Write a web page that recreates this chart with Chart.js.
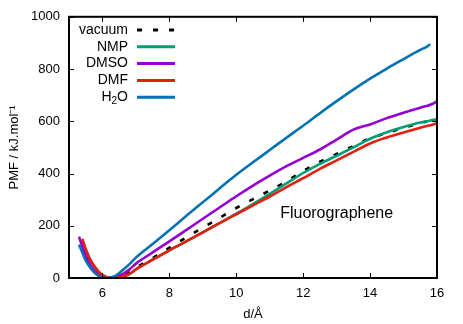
<!DOCTYPE html>
<html>
<head>
<meta charset="utf-8">
<script src="https://cdn.jsdelivr.net/npm/chart.js@4.4.0/dist/chart.umd.min.js"></script>
<style>
  html, body { margin: 0; padding: 0; background: #fff; }
  #wrap { width: 463px; height: 324px; }
</style>
</head>
<body>
<div id="wrap"><canvas id="pmfChart" width="463" height="324"></canvas></div>
<script>
// distance d / Angstrom
const dist = [5.3, 5.4, 5.5, 5.6, 5.7, 5.8, 5.9, 6.0, 6.1, 6.2, 6.3, 6.4, 6.6, 6.8, 7.0, 7.5, 8.0, 8.5, 9.0, 9.5,
  10.0, 10.5, 11.0, 11.5, 12.0, 12.5, 13.0, 13.5, 14.0, 14.5, 15.0, 15.5, 15.7, 15.8, 16.0];

// PMF values (kJ/mol)
const vacuum = [null, 140, 105, 75, 52, 33, 19, 9, 3, 0, 1, 4, 12, 25, 40, 76, 116, 155, 193, 230,
  268, 302, 335, 370, 410, 445, 475, 505, 535, 555, 575, 592, 600, null, null];
const nmp = [null, 146, 108, 78, 55, 36, 21, 11, 4, 1, 0, 1, 6, 15, 33, 70, 106, 140, 175, 210,
  246, 283, 322, 362, 402, 437, 468, 500, 533, 558, 578, 595, 600, 603, 608];
const dmso = [158, 120, 85, 58, 37, 21, 10, 4, 1, 0, 2, 5, 15, 32, 55, 98, 140, 183, 227, 270,
  313, 354, 392, 428, 460, 492, 530, 568, 588, 612, 633, 652, 659, 663, 676];
const dmf = [null, 150, 110, 80, 57, 38, 22, 12, 5, 1, 0, 1, 6, 15, 33, 70, 106, 140, 175, 210,
  244, 278, 312, 348, 382, 418, 450, 483, 515, 538, 557, 575, 582, 585, 592];
const h2o = [128, 98, 67, 46, 29, 16, 7, 2, 0, 1, 4, 9, 30, 52, 78, 130, 183, 237, 290, 343,
  395, 443, 490, 537, 583, 631, 677, 721, 763, 802, 838, 873, 886, 895, null];

const xTicks = [6, 8, 10, 12, 14, 16];
const yTicks = [0, 200, 400, 600, 800, 1000];

const FONT = "'Liberation Sans', Arial, Helvetica, sans-serif";

function toPoints(vals) {
  const pts = [];
  vals.forEach((v, i) => { if (v !== null) pts.push({ x: dist[i], y: v }); });
  return pts;
}

function series(label, vals, color, order, dash) {
  return {
    label: label,
    data: toPoints(vals),
    borderColor: color,
    backgroundColor: color,
    borderWidth: 2.6,
    borderDash: dash || [],
    pointRadius: 0,
    cubicInterpolationMode: "monotone",
    order: order,
  };
}

// frame, inward ticks, key and label in gnuplot style
const gnuplotLook = {
  id: "gnuplotLook",
  afterDatasetsDraw(chart) {
    const ctx = chart.ctx;
    const a = chart.chartArea;
    const xs = chart.scales.x;
    const ys = chart.scales.y;
    ctx.save();
    ctx.strokeStyle = "#000";
    ctx.lineWidth = 1;
    xTicks.forEach((v) => {
      const px = Math.round(xs.getPixelForValue(v)) + 0.5;
      ctx.beginPath();
      ctx.moveTo(px, a.bottom); ctx.lineTo(px, a.bottom - 5);
      ctx.moveTo(px, a.top); ctx.lineTo(px, a.top + 5);
      ctx.stroke();
    });
    yTicks.forEach((v) => {
      const py = Math.round(ys.getPixelForValue(v)) + 0.5;
      ctx.beginPath();
      ctx.moveTo(a.left, py); ctx.lineTo(a.left + 5, py);
      ctx.moveTo(a.right, py); ctx.lineTo(a.right - 5, py);
      ctx.stroke();
    });
    ctx.lineWidth = 2;
    ctx.strokeRect(a.left, a.top, a.right - a.left, a.bottom - a.top);

    // key
    const textRight = 128;
    const lineStart = 137, lineEnd = 175;
    const rowTop = 30, rowStep = 16.8;
    ctx.font = "14px " + FONT;
    ctx.textBaseline = "middle";
    chart.data.datasets.forEach((ds, i) => {
      const y = rowTop + i * rowStep;
      ctx.fillStyle = "#000";
      ctx.textAlign = "right";
      if (ds.label === "H2O") {
        const wO = ctx.measureText("O").width;
        ctx.fillText("O", textRight, y);
        ctx.font = "10px " + FONT;
        const w2 = ctx.measureText("2").width;
        ctx.fillText("2", textRight - wO, y + 4);
        ctx.font = "14px " + FONT;
        ctx.fillText("H", textRight - wO - w2, y);
      } else {
        ctx.fillText(ds.label, textRight, y);
      }
      ctx.strokeStyle = ds.borderColor;
      ctx.lineWidth = 3;
      ctx.setLineDash(ds.borderDash.length ? [5, 11] : []);
      ctx.beginPath();
      ctx.moveTo(lineStart, y); ctx.lineTo(lineEnd, y);
      ctx.stroke();
      ctx.setLineDash([]);
    });

    ctx.font = "16px " + FONT;
    ctx.fillStyle = "#000";
    ctx.textAlign = "center";
    ctx.fillText("Fluorographene", xs.getPixelForValue(13.0), ys.getPixelForValue(248));
    ctx.restore();
  },
};

const ctx = document.getElementById("pmfChart").getContext("2d");
new Chart(ctx, {
  type: "line",
  data: {
    datasets: [
      series("vacuum", vacuum, "#000000", 5, [5, 11]),
      series("NMP", nmp, "#009e73", 4),
      series("DMSO", dmso, "#9400d3", 3),
      series("DMF", dmf, "#e51e10", 2),
      series("H2O", h2o, "#0072b2", 1),
    ],
  },
  options: {
    responsive: false,
    animation: false,
    layout: { padding: { left: 0, right: 26, top: 16, bottom: 0 } },
    plugins: { legend: { display: false }, tooltip: { enabled: false } },
    scales: {
      x: {
        type: "linear",
        min: 5,
        max: 16,
        afterBuildTicks: (s) => { s.ticks = xTicks.map((v) => ({ value: v })); },
        afterFit: (s) => { s.height = 46; },
        grid: { display: false, drawTicks: false },
        border: { display: false },
        ticks: { padding: 8, color: "#000", font: { family: FONT, size: 13 }, callback: (v) => String(v) },
        title: {
          display: true,
          text: "d/Å",
          color: "#000",
          padding: { top: 0, bottom: 2 },
          font: { family: FONT, size: 13 },
        },
      },
      y: {
        min: 0,
        max: 1000,
        afterBuildTicks: (s) => { s.ticks = yTicks.map((v) => ({ value: v })); },
        afterFit: (s) => { s.width = 69; },
        grid: { display: false, drawTicks: false },
        border: { display: false },
        ticks: { padding: 9, color: "#000", font: { family: FONT, size: 13 }, callback: (v) => String(v) },
        title: {
          display: true,
          text: "PMF / kJ.mol⁻¹",
          color: "#000",
          padding: { top: 7, bottom: 0 },
          font: { family: FONT, size: 13 },
        },
      },
    },
  },
  plugins: [gnuplotLook],
});
</script>
</body>
</html>
